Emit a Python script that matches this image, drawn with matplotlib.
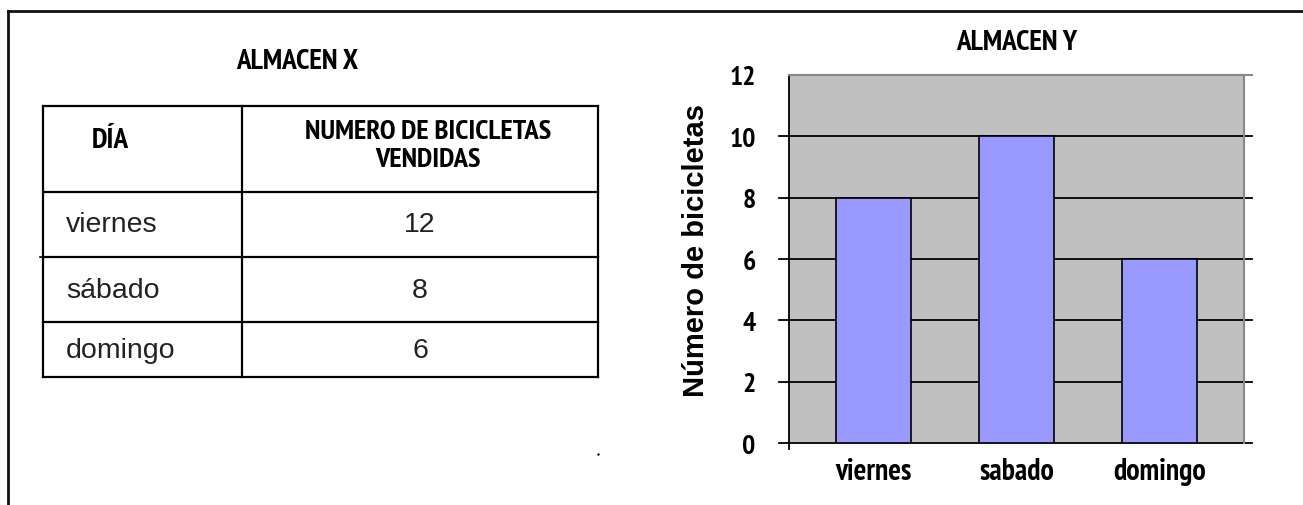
import matplotlib
matplotlib.use('Agg')
import matplotlib.pyplot as plt
from matplotlib import font_manager
from matplotlib.font_manager import FontProperties

# datos almacen X (tabla)
dias_x = ['viernes', 'sábado', 'domingo']
ventas_x = [12, 8, 6]
# datos almacen Y (barras)
dias_y = ['viernes', 'sabado', 'domingo']
ventas_y = [8, 10, 6]
yticks = [0, 2, 4, 6, 8, 10, 12]


def fuente_estrecha():
    # busca una letra negrita estrecha (tipo Arial Narrow) entre las instaladas
    bold = [f for f in font_manager.fontManager.ttflist
            if f.weight in (600, 700, 800, 'bold', 'semibold') and f.style == 'normal']
    for clave in ('Liberation Sans Narrow', 'Narrow', 'Condensed'):
        for f in bold:
            if clave in f.name or (clave == 'Condensed' and f.stretch in ('condensed', 'semi-condensed')):
                return f.fname
    return None


RUTA = fuente_estrecha()


def nf(size):
    if RUTA:
        return FontProperties(fname=RUTA, size=size)
    return FontProperties(family='DejaVu Sans', weight='bold', size=size * 0.7)


ARIAL = 'Liberation Sans'

W, H = 1303, 506
fig = plt.figure(figsize=(W / 100, H / 100), dpi=100)
fig.patch.set_facecolor('white')

# eje de fondo en pixeles para marco y tabla
bg = fig.add_axes([0, 0, 1, 1])
bg.set_xlim(0, W)
bg.set_ylim(H, 0)
bg.axis('off')

bg.plot([8, W], [12, 12], color='#111111', lw=2)
bg.plot([8, 8], [12, H], color='#111111', lw=2)

# tabla almacen X
bg.text(297, 62, 'ALMACEN X', fontproperties=nf(21), ha='center', va='center')
x0, xm, x1 = 43, 242, 598
filas = [107, 193, 258, 323, 378]
for y in filas:
    bg.plot([x0, x1], [y, y], color='black', lw=1.6)
for x in (x0, xm, x1):
    bg.plot([x, x], [filas[0], filas[-1]], color='black', lw=1.6)
bg.plot([40, x0], [258, 258], color='black', lw=1.2)

bg.text(110, 141, 'DÍA', fontproperties=nf(21), ha='center', va='center')
bg.text(428, 146, 'NUMERO DE BICICLETAS\nVENDIDAS', fontproperties=nf(20.5),
        ha='center', va='center', multialignment='center', linespacing=1.2)
for i, (d, v) in enumerate(zip(dias_x, ventas_x)):
    yc = (filas[i + 1] + filas[i + 2]) / 2
    bg.text(66, yc, d, fontfamily=ARIAL, fontsize=20.5, ha='left', va='center', color='#222222')
    bg.text(420, yc, str(v), fontfamily=ARIAL, fontsize=20.5, ha='center', va='center', color='#222222')
bg.plot([598], [455], marker='.', ms=1.5, color='black')

# grafico almacen Y
ax = fig.add_axes([789 / W, 1 - 444 / H, 455 / W, (444 - 76) / H])
ax.set_facecolor('#C0C0C0')
pos = list(range(len(dias_y)))
ax.bar(pos, ventas_y, width=0.52, color='#9999FF', edgecolor='black', linewidth=1.2, zorder=3)
ax.set_xlim(-0.59, 2.59)
ax.set_ylim(0, 12)

for v in yticks[:-1]:
    ax.axhline(v, xmin=-0.022, xmax=1.018, color='black', lw=1.3, clip_on=False, zorder=2)
ax.axhline(12, xmin=0, xmax=1.018, color='#888888', lw=1.5, clip_on=False, zorder=2)

for s in ('top', 'right'):
    ax.spines[s].set_color('#888888')
    ax.spines[s].set_linewidth(1.5)
ax.spines['bottom'].set_visible(False)
ax.spines['left'].set_color('black')
ax.spines['left'].set_linewidth(1.3)
ax.spines['left'].set_bounds(-0.2, 12)

ax.set_yticks(yticks)
ax.set_yticklabels([str(v) for v in yticks], fontproperties=nf(20))
ax.tick_params(axis='y', length=0, pad=24)
ax.set_xticks(pos)
ax.set_xticklabels(dias_y, fontproperties=nf(21.5))
ax.tick_params(axis='x', length=0, pad=10)

ax.set_ylabel('Número de bicicletas', fontfamily=ARIAL, fontweight='bold', fontsize=21)
ax.yaxis.set_label_coords(-0.174, 0.527)
ax.set_title('ALMACEN Y', fontproperties=nf(21), pad=19)

fig.savefig('out.png', dpi=100, facecolor='white')
